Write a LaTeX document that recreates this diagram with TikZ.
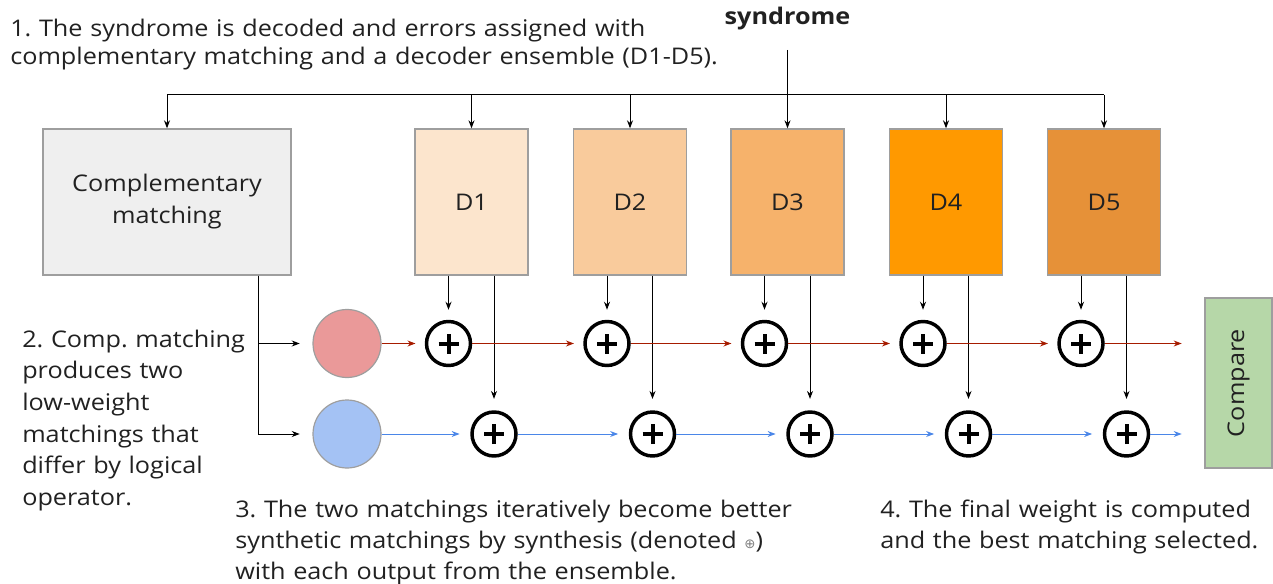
\documentclass[tikz,border=0pt]{standalone}
\usepackage{fontspec}
\setmainfont{Open Sans}[FakeStretch=1.1]
\newfontfamily\symfont{DejaVu Sans}
\usetikzlibrary{arrows.meta}
\definecolor{boxgray}{HTML}{9E9E9E}
\definecolor{compfill}{HTML}{EFEFEF}
\definecolor{dA}{HTML}{FCE5CD}
\definecolor{dB}{HTML}{F9CB9C}
\definecolor{dC}{HTML}{F6B26B}
\definecolor{dD}{HTML}{FF9900}
\definecolor{dE}{HTML}{E69138}
\definecolor{cmpfill}{HTML}{B6D7A8}
\definecolor{redfill}{HTML}{EA9999}
\definecolor{bluefill}{HTML}{A4C2F4}
\definecolor{redline}{HTML}{A61C00}
\definecolor{blueline}{HTML}{4A86E8}
\definecolor{txt}{HTML}{212121}
\frenchspacing
\begin{document}
\frenchspacing
\begin{tikzpicture}[x=0.75pt,y=-0.75pt,
  font=\fontsize{17.2}{23.25}\selectfont\frenchspacing, text=txt,
  arr/.style={-{Stealth[length=6pt,width=4.5pt]}, line width=0.75pt},
  dbox/.style={draw=boxgray, line width=1pt, minimum width=84.75pt, minimum height=109.5pt, inner sep=0pt},
  mcircle/.style={circle, draw=boxgray, line width=0.9pt, minimum size=51pt, inner sep=0pt},
  opl/.style={circle, draw=black, line width=2.6pt, minimum size=33pt, inner sep=0pt,
    path picture={
      \draw[line width=3pt] ([xshift=-7.5pt]path picture bounding box.center) -- ([xshift=7.5pt]path picture bounding box.center);
      \draw[line width=3pt] ([yshift=-7.5pt]path picture bounding box.center) -- ([yshift=7.5pt]path picture bounding box.center);}},
  note/.style={anchor=base west, align=left, text width=640pt, inner sep=0pt},
  redarr/.style={arr, draw=redline, shorten >=7pt},
  bluearr/.style={arr, draw=blueline, shorten >=8pt}
]
\useasboundingbox (0,0) rectangle (1273,584);

% texts
\node[note, font=\fontsize{17.2}{20.6}\selectfont\frenchspacing] (t1) at (10,37)
  {1. The syndrome is decoded and errors assigned with\\complementary matching and a decoder ensemble (D1-D5).};
\node[anchor=base, font=\fontsize{17.2}{20}\selectfont\bfseries] (syn) at (787.5,25) {syndrome};
\node[note, font=\fontsize{17.2}{23.75}\selectfont\frenchspacing] (t2) at (22,347)
  {2. Comp. matching\\produces two\\low-weight\\matchings that\\differ by logical\\operator.};
\node[note] (t3) at (235,517)
  {3. The two matchings iteratively become better\\synthetic matchings by synthesis (denoted {\symfont\fontsize{10}{10}\selectfont\textcolor{gray}{⊕}})\\with each output from the ensemble.};
\node[note] (t4) at (880,517)
  {4. The final weight is computed\\and the best matching selected.};

% boxes
\node[dbox, fill=compfill, minimum width=186pt, align=center, font=\fontsize{17.2}{24}\selectfont] (comp) at (167,202) {Complementary\\matching};
\node[dbox, fill=dA] (D1) at (471.5,202) {D1};
\node[dbox, fill=dB] (D2) at (630,202) {D2};
\node[dbox, fill=dC] (D3) at (787.5,202) {D3};
\node[dbox, fill=dD] (D4) at (946,202) {D4};
\node[dbox, fill=dE] (D5) at (1104,202) {D5};
\node[dbox, fill=cmpfill, rotate=90, minimum width=127.5pt, minimum height=50.25pt] (cmp) at (1238.5,383) {Compare};

% matchings
\node[mcircle, fill=redfill] (rc) at (347,343.5) {};
\node[mcircle, fill=bluefill] (bc) at (347,434) {};

% synthesis nodes
\node[opl] (r1) at (448.5,343.5) {};
\node[opl] (r2) at (607,343.5) {};
\node[opl] (r3) at (764.5,343.5) {};
\node[opl] (r4) at (923,343.5) {};
\node[opl] (r5) at (1081,343.5) {};
\node[opl] (b1) at (494,434) {};
\node[opl] (b2) at (652.5,434) {};
\node[opl] (b3) at (810,434) {};
\node[opl] (b4) at (968.5,434) {};
\node[opl] (b5) at (1126.5,434) {};

% top connectors
\coordinate (synout) at (787.5,50);
\coordinate (bar) at (0,95);
\draw[arr] (synout) -- (D3.north);
\draw[line width=0.75pt] (comp.north |- bar) -- (D5.north |- bar);
\foreach \n in {comp,D1,D2,D4,D5} \draw[arr] (\n.north |- bar) -- (\n.north);

% decoder legs
\foreach \d/\r/\b in {D1/r1/b1,D2/r2/b2,D3/r3/b3,D4/r4/b4,D5/r5/b5} {
  \draw[arr, shorten >=7.5pt] (\r |- \d.south) -- (\r.north);
  \draw[arr, shorten >=8.5pt] (\b |- \d.south) -- (\b.north);
}

% comp to circles
\coordinate (cleg) at ([xshift=-24.75pt]comp.south east);
\draw[arr, shorten >=9.5pt] (cleg) |- (rc.west);
\draw[arr, shorten >=9.5pt] (cleg) |- (bc.west);

% red row
\draw[redarr] (rc.east) -- (r1.west);
\draw[redarr] (r1.east) -- (r2.west);
\draw[redarr] (r2.east) -- (r3.west);
\draw[redarr] (r3.east) -- (r4.west);
\draw[redarr] (r4.east) -- (r5.west);
\draw[redarr, shorten >=17pt] (r5.east) -- (r5.east -| cmp.north);
% blue row
\draw[bluearr] (bc.east) -- (b1.west);
\draw[bluearr] (b1.east) -- (b2.west);
\draw[bluearr] (b2.east) -- (b3.west);
\draw[bluearr] (b3.east) -- (b4.west);
\draw[bluearr] (b4.east) -- (b5.west);
\draw[bluearr, shorten >=17pt] (b5.east) -- (b5.east -| cmp.north);
\end{tikzpicture}
\end{document}
